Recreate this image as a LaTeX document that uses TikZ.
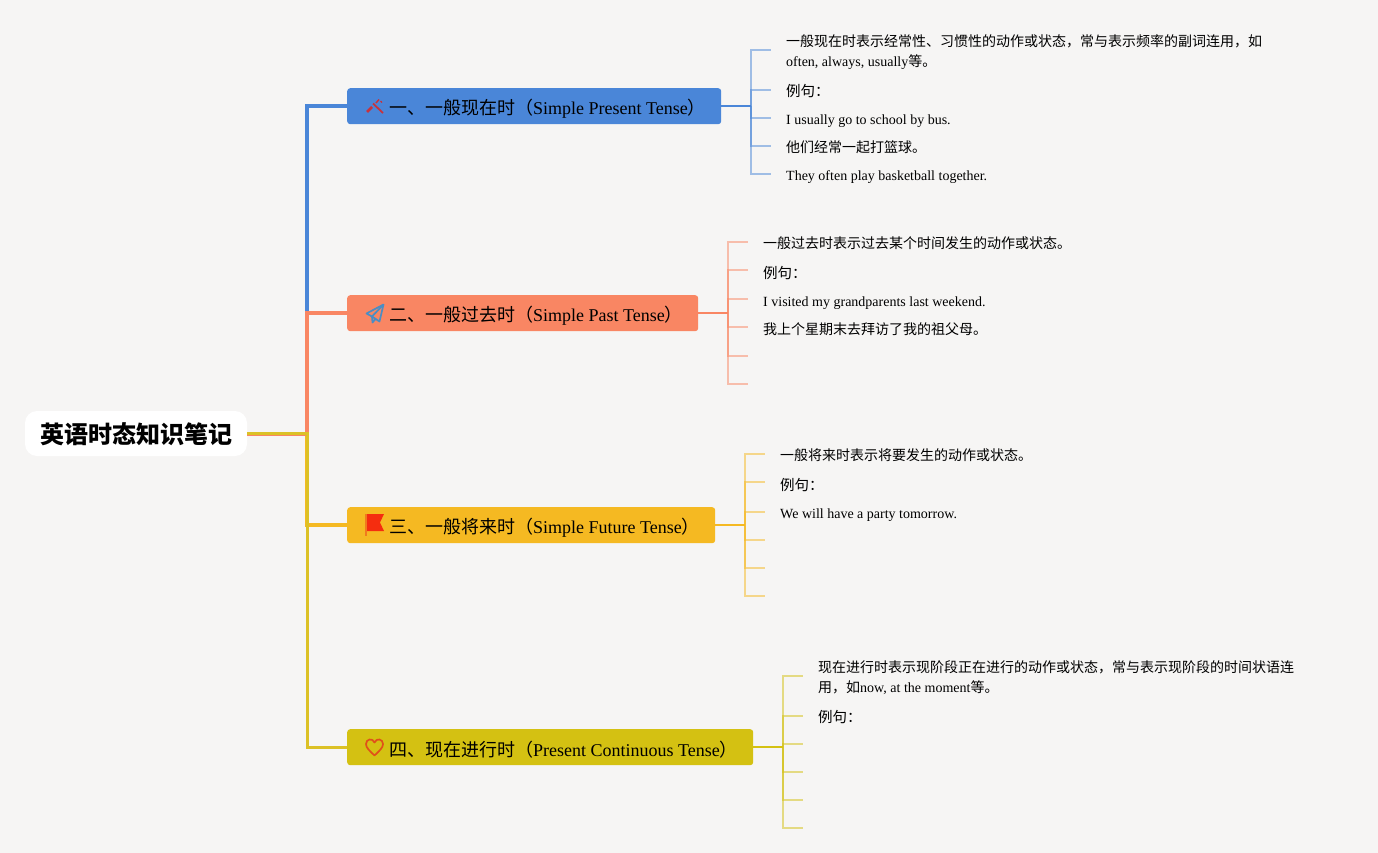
\documentclass[tikz,border=0pt]{standalone}
\usepackage{fontspec}
\setmainfont{Liberation Serif}
\newfontfamily\cjk{Noto Sans CJK SC}
\newcommand{\Zh}[1]{{\cjk #1}}
\definecolor{bgc}{HTML}{F6F5F4}
\definecolor{cblue}{HTML}{4A86D8}
\definecolor{corange}{HTML}{F98663}
\definecolor{cyellow}{HTML}{F5B922}
\definecolor{colive}{HTML}{D4C112}
\definecolor{ctrunk}{HTML}{DCC126}
\definecolor{itool}{HTML}{C8323C}
\definecolor{iplane}{HTML}{4A8DC4}
\definecolor{iflag}{HTML}{F52D0F}
\definecolor{ipole}{HTML}{F07A1E}
\definecolor{iheart}{HTML}{E0501A}
\tikzset{
  x=1pt,y=-1pt,
  rootbox/.style={fill=white,rounded corners=12pt,inner sep=0pt,minimum width=222pt,minimum height=45pt,font=\fontsize{24}{28}\selectfont\cjk\bfseries},
  branchbox/.style={rounded corners=3pt,inner sep=0pt,minimum height=36pt,anchor=north west},
  branchtext/.style={anchor=west,inner sep=0pt,font=\fontsize{18}{22}\selectfont},
  leaf/.style={anchor=west,inner xsep=15pt,inner ysep=0pt,align=left,font=\fontsize{14}{20}\selectfont},
  leafbig/.style={leaf,font=\fontsize{14.5}{20}\selectfont},
  trunk/.style={line width=#1},
  twig/.style={line width=2pt,opacity=.5},
  stem/.style={line width=2pt},
}
\begin{document}
\begin{tikzpicture}
\useasboundingbox[fill=bgc] (0,0) rectangle (1378,853);

% nodes
\node[rootbox,text depth=-3pt] (root) at (136,433.5) {英语时态知识笔记};
\node[branchbox,fill=cblue,minimum width=374pt] (b1) at (347,88) {};
\node[branchbox,fill=corange,minimum width=351pt] (b2) at (347,295) {};
\node[branchbox,fill=cyellow,minimum width=368pt] (b3) at (347,507) {};
\node[branchbox,fill=colive,minimum width=406pt] (b4) at (347,729) {};
\node[branchtext] (t1) at (389,108.5) {\Zh{一、一般现在时（}Simple Present Tense\hspace{-0.5pt}\Zh{）}};
\node[branchtext] (t2) at (389,315.5) {\Zh{二、一般过去时（}Simple Past Tense\hspace{-0.5pt}\Zh{）}};
\node[branchtext] (t3) at (389,527.5) {\Zh{三、一般将来时（}Simple Future Tense\hspace{-0.5pt}\Zh{）}};
\node[branchtext] (t4) at (389,749.5) {\Zh{四、现在进行时（}Present Continuous Tense\hspace{-0.5pt}\Zh{）}};

% main connectors
\draw[trunk=4pt,cblue] (root.east) -- ++(60,0) |- (b1.west);
\draw[trunk=3.5pt,cyellow] (root.east) -- ++(60,0) |- (b3.west);
\draw[trunk=4pt,corange] (root.east) -- ++(60,0) |- (b2.west);
\draw[trunk=3pt,ctrunk] (root.east) -- ++(60,0) |- (b4.west);

% leaves: branch 1
\node[leaf] (l11) at (771,52) {\Zh{一般现在时表示经常性、习惯性的动作或状态，常与表示频率的副词连用，如}\\often, always, usually\Zh{等。}};
\node[leafbig] (l12) at (771,91) {\Zh{例句：}};
\node[leaf] (l13) at (771,121) {I usually go to school by bus.};
\node[leaf] (l14) at (771,147) {\Zh{他们经常一起打篮球。}};
\node[leaf] (l15) at (771,177) {They often play basketball together.};
\foreach \n/\y in {l11/50,l12/90,l13/118,l14/146,l15/174}
  \draw[twig,cblue] (b1.east) ++(30,0) |- (771,\y);
\draw[stem,cblue] (b1.east) -- ++(30,0);

% leaves: branch 2
\node[leaf] (l21) at (748,243) {\Zh{一般过去时表示过去某个时间发生的动作或状态。}};
\node[leafbig] (l22) at (748,273) {\Zh{例句：}};
\node[leaf] (l23) at (748,303) {I visited my grandparents last weekend.};
\node[leaf] (l24) at (748,329) {\Zh{我上个星期末去拜访了我的祖父母。}};
\coordinate (l25) at (748,356);
\coordinate (l26) at (748,384);
\foreach \n in {242,270,299,327}
  \draw[twig,corange] (b2.east) ++(30,0) |- (748,\n);
\foreach \n in {l25,l26}
  \draw[twig,corange] (b2.east) ++(30,0) |- (\n);
\draw[stem,corange] (b2.east) -- ++(30,0);

% leaves: branch 3
\node[leaf] (l31) at (765,455) {\Zh{一般将来时表示将要发生的动作或状态。}};
\node[leafbig] (l32) at (765,485) {\Zh{例句：}};
\node[leaf] (l33) at (765,515) {We will have a party tomorrow.};
\coordinate (l34) at (765,540);
\coordinate (l35) at (765,568);
\coordinate (l36) at (765,596);
\foreach \n in {454,482,512}
  \draw[twig,cyellow] (b3.east) ++(30,0) |- (765,\n);
\foreach \n in {l34,l35,l36}
  \draw[twig,cyellow] (b3.east) ++(30,0) |- (\n);
\draw[stem,cyellow] (b3.east) -- ++(30,0);

% leaves: branch 4
\node[leaf] (l41) at (803,678) {\Zh{现在进行时表示现阶段正在进行的动作或状态，常与表示现阶段的时间状语连}\\\Zh{用，如}now, at the moment\Zh{等。}};
\node[leafbig] (l42) at (803,717) {\Zh{例句：}};
\coordinate (l43) at (803,744);
\coordinate (l44) at (803,772);
\coordinate (l45) at (803,800);
\coordinate (l46) at (803,828);
\foreach \n in {676,716}
  \draw[twig,colive] (b4.east) ++(30,0) |- (803,\n);
\foreach \n in {l43,l44,l45,l46}
  \draw[twig,colive] (b4.east) ++(30,0) |- (\n);
\draw[stem,colive] (b4.east) -- ++(30,0);

% icon 1: tools
\draw[line width=2.6pt,color=itool] (367,112) -- (372,107);
\draw[line width=1.5pt,color=itool] (376,103) -- (379,99.5);
\draw[line width=1.8pt,color=itool] (373,103.5) -- (383,113);
\draw[line width=1.3pt,color=itool] (380.5,101) -- (382,102.5);
% icon 2: paper plane
\draw[line width=1.7pt,color=iplane,line join=round] (366.5,313.5) -- (383.5,304.5) -- (379.5,321.5) -- (372,316.5) -- cycle;
\draw[line width=1.7pt,color=iplane,line join=round] (383.5,304.5) -- (372,316.5) -- (372.5,322.5) -- (375.5,319);
% icon 3: flag
\fill[color=iflag] (366,514) -- (384,514) -- (380,522.5) -- (384,531) -- (366,531) -- cycle;
\draw[line width=1.3pt,color=ipole] (366,514) -- (366,536);
% icon 4: heart
\draw[line width=1.7pt,color=iheart,line join=round] (374.5,755.5) .. controls (370,751) and (366,748) .. (366,744) .. controls (366,739) and (372.5,737.5) .. (374.5,742.5) .. controls (376.5,737.5) and (383,739) .. (383,744) .. controls (383,748) and (379,751) .. (374.5,755.5) -- cycle;
\end{tikzpicture}
\end{document}
